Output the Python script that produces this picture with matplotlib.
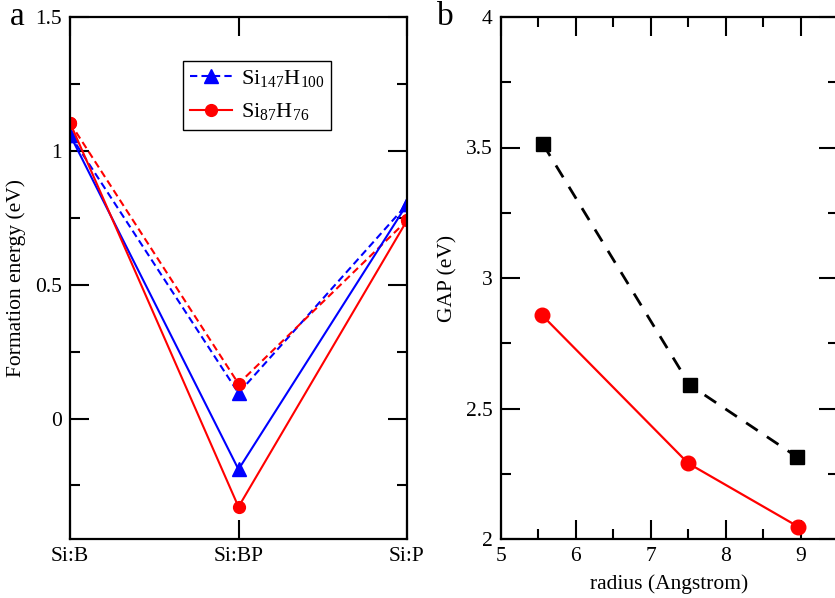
import numpy as np
import matplotlib.pyplot as plt
from matplotlib.ticker import MultipleLocator

plt.rcParams['font.family'] = ['Liberation Serif', 'DejaVu Serif']
plt.rcParams['mathtext.fontset'] = 'custom'
plt.rcParams['mathtext.rm'] = 'Liberation Serif'

# panel a: formation energies
sites = ['Si:B', 'Si:BP', 'Si:P']
si147_dashed = [1.06, 0.095, 0.80]
si147_solid = [1.06, -0.19, 0.80]
si87_dashed = [1.105, 0.13, 0.74]
si87_solid = [1.105, -0.33, 0.74]

# panel b: gap vs radius
radius_sq = [5.56, 7.52, 8.95]
gap_sq = [3.513, 2.59, 2.315]
radius_ci = [5.55, 7.50, 8.97]
gap_ci = [2.857, 2.29, 2.047]

fig = plt.figure(figsize=(8.35, 5.98), dpi=100)
ax1 = fig.add_axes([70/835, 1-539/598, 337/835, 522/598])
ax2 = fig.add_axes([501/835, 1-539/598, 337/835, 522/598])

x = np.arange(len(sites))
dash = (0, (3.5, 2))
ax1.plot(x, si147_dashed, color='blue', ls=dash, lw=1.5, marker='^', ms=10)
ax1.plot(x, si87_dashed, color='red', ls=dash, lw=1.5, marker='o', ms=8.5)
ax1.plot(x, si147_solid, color='blue', lw=1.5, marker='^', ms=10)
ax1.plot(x, si87_solid, color='red', lw=1.5, marker='o', ms=8.5)

# legend entries
la, = ax1.plot([], [], color='blue', ls=dash, lw=1.5, marker='^', ms=10)
lb, = ax1.plot([], [], color='red', lw=1.5, marker='o', ms=8.5)
leg = ax1.legend([la, lb], [r'Si$_{147}$H$_{100}$', r'Si$_{87}$H$_{76}$'],
                 loc='upper left', bbox_to_anchor=(0.335, 0.915), fontsize=16,
                 fancybox=False, edgecolor='black', framealpha=1,
                 handlelength=1.9, handletextpad=0.4, borderpad=0.3,
                 labelspacing=0.55, borderaxespad=0)
leg.get_frame().set_linewidth(1.0)

ax1.set_xlim(0, 2)
ax1.set_ylim(-0.45, 1.5)
ax1.set_xticks(x)
ax1.set_xticklabels(sites)
ax1.yaxis.set_major_locator(MultipleLocator(0.5))
ax1.yaxis.set_minor_locator(MultipleLocator(0.25))
ax1.set_yticks([0, 0.5, 1, 1.5])
ax1.set_yticklabels(['0', '0.5', '1', '1.5'])
ax1.set_ylabel('Formation energy (eV)', fontsize=15.5, labelpad=6)

ax2.plot(radius_sq, gap_sq, color='black', ls=(0, (5, 4)), lw=2, marker='s', ms=9.5)
ax2.plot(radius_ci, gap_ci, color='red', lw=1.6, marker='o', ms=10.5)
ax2.set_xlim(5, 9.5)
ax2.set_ylim(2, 4)
ax2.xaxis.set_major_locator(MultipleLocator(1))
ax2.xaxis.set_minor_locator(MultipleLocator(0.5))
ax2.yaxis.set_major_locator(MultipleLocator(0.5))
ax2.yaxis.set_minor_locator(MultipleLocator(0.25))
ax2.set_yticks([2, 2.5, 3, 3.5, 4])
ax2.set_yticklabels(['2', '2.5', '3', '3.5', '4'])
ax2.set_xlabel('radius (Angstrom)', fontsize=15.5, labelpad=6)
ax2.set_ylabel('GAP (eV)', fontsize=15.5, labelpad=6)

for ax in (ax1, ax2):
    ax.tick_params(which='both', direction='in', top=True, right=True, labelsize=15.5, width=1.5)
    ax.tick_params(which='major', length=14, pad=6)
    ax.tick_params(which='minor', length=7)
    for s in ax.spines.values():
        s.set_linewidth(1.6)

fig.text(17/835, 1-17/598, 'a', fontsize=24, ha='center', va='center')
fig.text(445/835, 1-17/598, 'b', fontsize=24, ha='center', va='center')

fig.savefig('out.png', dpi=100)
